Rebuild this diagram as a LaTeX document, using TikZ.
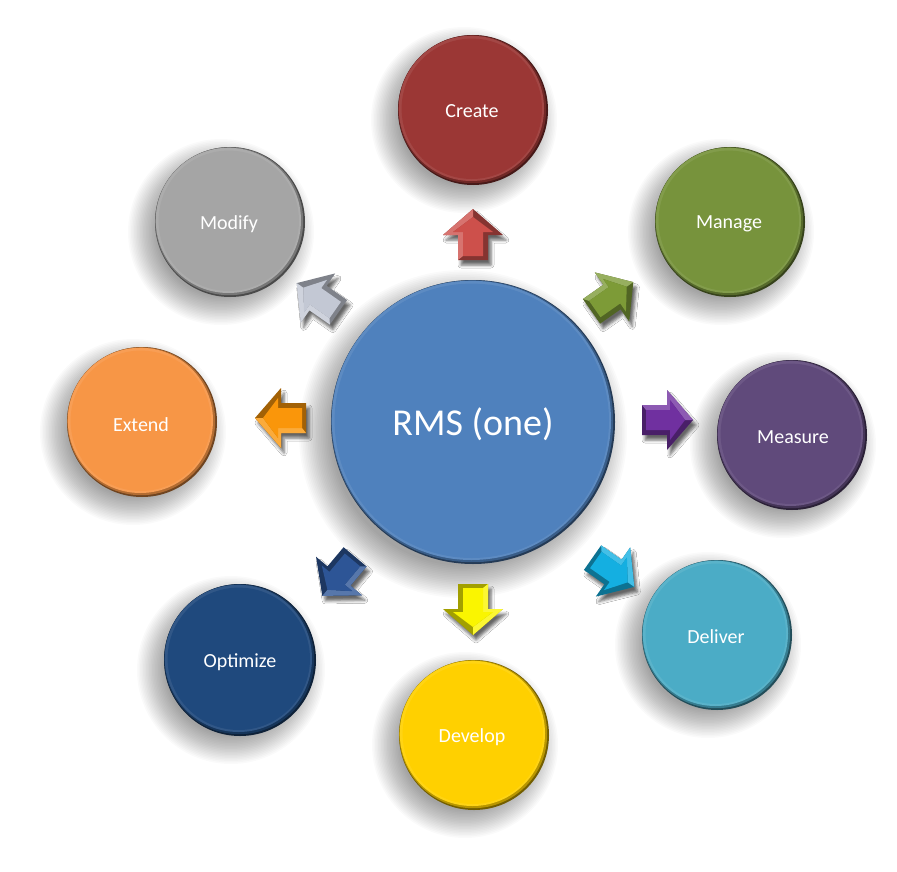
\documentclass[tikz,border=0pt]{standalone}
\usepackage{fontspec}
\setmainfont{Carlito}
\usetikzlibrary{shadows.blur}
\definecolor{cCreate}{RGB}{155,55,53}
\definecolor{cManage}{RGB}{119,147,60}
\definecolor{cMeasure}{RGB}{96,74,123}
\definecolor{cDeliver}{RGB}{75,172,198}
\definecolor{cDevelop}{RGB}{255,208,0}
\definecolor{cOptimize}{RGB}{31,73,125}
\definecolor{cExtend}{RGB}{247,150,70}
\definecolor{cModify}{RGB}{165,165,165}
\definecolor{cCenter}{RGB}{79,129,189}
\definecolor{aRed}{RGB}{205,80,75}
\definecolor{aGreen}{RGB}{125,155,55}
\definecolor{aPurple}{RGB}{112,48,160}
\definecolor{aCyan}{RGB}{20,175,225}
\definecolor{aYellow}{RGB}{250,245,0}
\definecolor{aBlue}{RGB}{45,85,150}
\definecolor{aOrange}{RGB}{250,150,10}
\definecolor{aSilver}{RGB}{195,200,212}
\tikzset{
  labeltext/.style={text=white, font=\fontsize{20}{22}\selectfont, inner sep=0pt},
  bigtext/.style={text=white, font=\fontsize{38}{40}\selectfont, inner sep=0pt},
  softshade/.style={fill=black, opacity=0.02},
}
% soft shadow: x, y, radius (pixel units, y down), offset down-left
\newcommand\softshadow[3]{%
  \foreach \i in {0,...,19}{
    \fill[softshade] (#1-9,#2+10) circle[radius={#3pt+18pt-1.5pt*\i}];
  }
}
% name, x, y, radius, color
\newcommand\bevcircle[5]{%
  \softshadow{#2}{#3}{#4}
  \node[circle, inner sep=0pt, minimum size={2*#4pt}, fill=#5!45!black] (#1) at (#2,#3) {};
  \fill[#5!72!black] ([xshift=-0.8pt,yshift=0.8pt]#1.center) circle[radius={#4pt-1pt}];
  \fill[#5!92!white] ([xshift=-1.6pt,yshift=1.6pt]#1.center) circle[radius={#4pt-2.4pt}];
  \fill[#5] ([xshift=-1.2pt,yshift=1.2pt]#1.center) circle[radius={#4pt-4.8pt}];
}
\newcommand\arrowpath{(-25,-15) -- (0,-15) -- (0,-30) -- (26,0) -- (0,30) -- (0,15) -- (-25,15) -- cycle}
\newcommand\innerpath{(-21,-10) -- (3,-10) -- (3,-20) -- (18,0) -- (3,20) -- (3,10) -- (-21,10) -- cycle}
% x, y, angle, color
\newcommand\bevarrow[4]{%
  \begin{scope}[shift={(#1+3,#2+5)}, rotate=#3]
    \path[blur shadow={shadow xshift=0pt, shadow yshift=0pt, shadow blur radius=3pt, shadow opacity=60}] \arrowpath;
  \end{scope}
  \begin{scope}[shift={(#1,#2)}, rotate=#3]
    \fill[#4!65!black] \arrowpath;
    \fill[#4!80!white] (-25,-15) -- (0,-15) -- (0,-30) -- (26,0) -- (18,0) -- (3,-20) -- (3,-10) -- (-21,-10) -- cycle;
    \fill[#4] \innerpath;
  \end{scope}
}
\begin{document}
\begin{tikzpicture}[x=1pt, y=-1pt]
  \fill[white] (0,0) rectangle (897,872);
  \useasboundingbox (0,0) rectangle (897,872);

  % center
  \foreach \i in {0,...,19}{
    \fill[softshade] (463,434) circle[radius={164pt-1.7pt*\i}];
  }
  \node[circle, inner sep=0pt, minimum size=284pt, fill=cCenter!45!black] (center) at (473,422) {};
  \fill[cCenter!72!black] ([xshift=-0.8pt,yshift=0.8pt]center.center) circle[radius=141pt];
  \fill[cCenter!92!white] ([xshift=-1.6pt,yshift=1.6pt]center.center) circle[radius=139.6pt];
  \fill[cCenter] ([xshift=-1.2pt,yshift=1.2pt]center.center) circle[radius=137.2pt];
  \node[bigtext] (centert) at (473,424) {RMS (one)};

  % outer circles
  \bevcircle{create}{473}{110}{75}{cCreate}
  \bevcircle{manage}{730}{222}{75}{cManage}
  \bevcircle{measure}{792}{435}{75}{cMeasure}
  \bevcircle{deliver}{717}{635}{75}{cDeliver}
  \bevcircle{develop}{474}{735}{75}{cDevelop}
  \bevcircle{optimize}{240}{660}{76}{cOptimize}
  \bevcircle{extend}{142}{422}{75}{cExtend}
  \bevcircle{modify}{230}{222}{75}{cModify}

  \node[labeltext] (createt) at (472,111) {Create};
  \node[labeltext] (managet) at (729,224) {Manage};
  \node[labeltext] (measuret) at (793,437) {Measure};
  \node[labeltext] (delivert) at (716,637) {Deliver};
  \node[labeltext] (developt) at (472,737) {Develop};
  \node[labeltext] (optimizet) at (240,662) {Optimize};
  \node[labeltext] (extendt) at (141,425) {Extend};
  \node[labeltext] (modifyt) at (229,224) {Modify};

  % arrows
  \bevarrow{473}{235}{90}{aRed}
  \bevarrow{612}{297}{35}{aGreen}
  \bevarrow{667}{420}{0}{aPurple}
  \bevarrow{613}{572}{-35}{aCyan}
  \bevarrow{473}{609}{-90}{aYellow}
  \bevarrow{339}{576}{-130}{aBlue}
  \bevarrow{281}{418}{180}{aOrange}
  \bevarrow{318}{298}{145}{aSilver}
\end{tikzpicture}
\end{document}
